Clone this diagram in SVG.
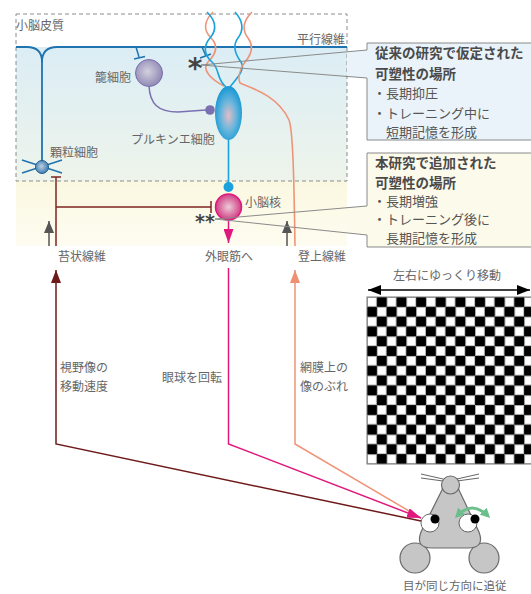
<svg xmlns="http://www.w3.org/2000/svg" width="531" height="594" viewBox="0 0 531 594">
  <defs>
    <style>
      text { font-family: "Noto Sans CJK JP", "Noto Sans", sans-serif; fill: #666; font-size: 12px; }
      .bh { font-size: 13.5px; font-weight: bold; fill: #4a4a4a; }
      .bt { font-size: 13px; fill: #555; }
      .small { font-size: 11.5px; }
      .star { font-family: "DejaVu Sans", sans-serif; font-weight: bold; fill: #444; text-anchor: middle; }
      .star1 { font-size: 28px; }
      .star2 { font-size: 19px; }
      .pf { stroke: #1f73ae; stroke-width: 1.8; fill: none; }
      .cyan { stroke: #1ba2dc; stroke-width: 1.6; fill: none; }
      .cf { stroke: #ef9479; stroke-width: 1.6; fill: none; }
      .mf { stroke: #7f2424; stroke-width: 1.5; fill: none; }
      .lead { stroke: #8a8a8a; stroke-width: 1; fill: none; }
      .conn { stroke-width: 1.5; fill: none; }
      .mouse { fill: #c6c6c6; stroke: #6a6a6a; stroke-width: 1.2; }
      .whisk { stroke: #666; stroke-width: 1; }
    </style>
    <linearGradient id="gCortex" x1="0" y1="0" x2="0" y2="1">
      <stop offset="0" stop-color="#dbedf5"/>
      <stop offset="1" stop-color="#eef4eb"/>
    </linearGradient>
    <linearGradient id="gDeep" x1="0" y1="0" x2="0" y2="1">
      <stop offset="0" stop-color="#fbf8e1"/>
      <stop offset="1" stop-color="#fdfcf0"/>
    </linearGradient>
    <radialGradient id="gPurk" cx="0.5" cy="0.55" r="0.55">
      <stop offset="0" stop-color="#e4bcc6"/>
      <stop offset="0.5" stop-color="#6ab6dc"/>
      <stop offset="1" stop-color="#1697d4"/>
    </radialGradient>
    <radialGradient id="gBasket" cx="0.45" cy="0.45" r="0.6">
      <stop offset="0" stop-color="#d4d0df"/>
      <stop offset="1" stop-color="#8a84b0"/>
    </radialGradient>
    <radialGradient id="gGran" cx="0.45" cy="0.45" r="0.6">
      <stop offset="0" stop-color="#bcd0e2"/>
      <stop offset="1" stop-color="#3574aa"/>
    </radialGradient>
    <radialGradient id="gDCN" cx="0.5" cy="0.5" r="0.55">
      <stop offset="0" stop-color="#ecccd8"/>
      <stop offset="1" stop-color="#cf2f7c"/>
    </radialGradient>
    <pattern id="checker" x="367" y="297" width="19.64" height="19.64" patternUnits="userSpaceOnUse">
      <rect width="19.64" height="19.64" fill="#000"/>
      <rect x="0.4" y="0.4" width="9.2" height="9.2" fill="#fff" stroke="#bbb" stroke-width="0.6"/>
      <rect x="10.22" y="10.22" width="9.2" height="9.2" fill="#fff" stroke="#bbb" stroke-width="0.6"/>
    </pattern>
    <marker id="aMaroon" viewBox="0 0 13 10" refX="13" refY="5" markerWidth="13" markerHeight="10" markerUnits="userSpaceOnUse" orient="auto">
      <path d="M0,0L13,5L0,10z" fill="#6f1a1a"/>
    </marker>
    <marker id="aPink" viewBox="0 0 14 10" refX="14" refY="5" markerWidth="14" markerHeight="10" markerUnits="userSpaceOnUse" orient="auto">
      <path d="M0,0L14,5L0,10z" fill="#e0187e"/>
    </marker>
    <marker id="aSalmon" viewBox="0 0 13 10" refX="13" refY="5" markerWidth="13" markerHeight="10" markerUnits="userSpaceOnUse" orient="auto">
      <path d="M0,0L13,5L0,10z" fill="#ef8f73"/>
    </marker>
    <marker id="aGray" viewBox="0 0 12 10" refX="12" refY="5" markerWidth="12" markerHeight="10" markerUnits="userSpaceOnUse" orient="auto">
      <path d="M0,0L12,5L0,10z" fill="#555"/>
    </marker>
    <marker id="aBlack" viewBox="0 0 13 10" refX="13" refY="5" markerWidth="13" markerHeight="10" markerUnits="userSpaceOnUse" orient="auto-start-reverse">
      <path d="M0,0L13,5L0,10z" fill="#000"/>
    </marker>
    <marker id="aGreen" viewBox="0 0 10 10" refX="7" refY="5" markerWidth="10" markerHeight="10" markerUnits="userSpaceOnUse" orient="auto-start-reverse">
      <path d="M0,0L10,5L0,10z" fill="#6cbf8c"/>
    </marker>
  </defs>

  <!-- tissue background: cortex and deep nucleus layers -->
  <rect x="16" y="47" width="331" height="134" fill="url(#gCortex)"/>
  <rect x="16" y="181" width="331" height="65" fill="url(#gDeep)"/>
  <rect x="16" y="14" width="331" height="167" fill="none" stroke="#8c8c8c" stroke-width="1" stroke-dasharray="4 3"/>

  <!-- callout wedge fills outside the cortex -->
  <polygon points="347,51.8 367,50 367,78 347,76.4" fill="#e9f3f9"/>
  <polygon points="347,207.7 367,206 367,235 347,232.9" fill="#fcfaea"/>

  <!-- granule cell and parallel fiber -->
  <g id="granule-cell">
    <path class="pf" d="M16,47 H27 Q42,47 42,62 V167"/>
    <path class="pf" d="M347,47 H57 Q42,47 42,62"/>
    <path d="M22,160 L62,173 M22,173 L62,160" stroke="#1f73ae" stroke-width="1.5"/>
    <circle cx="42" cy="167" r="6.5" fill="url(#gGran)" stroke="#1f5f92" stroke-width="1"/>
  </g>

  <!-- basket cell -->
  <g id="basket-cell">
    <path d="M136,47 L139,57 M134,59 L145,56.5" stroke="#1f73ae" stroke-width="1.5" fill="none"/>
    <path d="M149,86 C150,104 158,112 178,112 L206,110" stroke="#7a6fb0" stroke-width="1.5" fill="none"/>
    <circle cx="210" cy="110" r="4.8" fill="#7a6fb0"/>
    <circle cx="149" cy="73" r="13.5" fill="url(#gBasket)" stroke="#7a6fb0" stroke-width="1"/>
  </g>

  <!-- Purkinje cell with dendrites and climbing fiber -->
  <g id="purkinje-cell">
    <path d="M202,47 L206,56 M200,58 L211,54" stroke="#1f73ae" stroke-width="1.5" fill="none"/>
    <path class="cf" d="M213,12 C204,21 203,30 211,38 C219,46 216,54 208,62 C201,70 212,80 224,86"/>
    <path class="cyan" d="M207,12 C216,21 217,30 210,38 C203,46 204,55 212,62 C220,69 216,79 226,87"/>
    <path class="cyan" d="M235,12 C243,21 244,30 238,38 C232,46 235,54 241,62 C246,70 236,79 230,87"/>
    <path class="cf" d="M252,12 C243,21 242,30 248,38 C254,46 251,55 245,62 C239,70 238,78 240,83 C252,88 278,96 289,120 C293,130 294,180 295,246"/>
    <line x1="228.5" y1="138" x2="228.5" y2="185" stroke="#1ba2dc" stroke-width="1.6"/>
    <ellipse cx="228.5" cy="113" rx="13.5" ry="27" fill="url(#gPurk)"/>
    <circle cx="228.5" cy="187" r="5" fill="#1ba2dc"/>
  </g>

  <!-- deep cerebellar nucleus -->
  <g id="cerebellar-nucleus">
    <circle cx="228.5" cy="207" r="13" fill="url(#gDCN)" stroke="#e0187e" stroke-width="1.5"/>
  </g>

  <!-- mossy fiber input -->
  <g id="mossy-fiber">
    <path class="mf" d="M56,246 V177 M51,177 H61"/>
    <path class="mf" d="M56,207 H211 M211,201 V213"/>
  </g>

  <!-- connectors -->
  <g id="connectors">
    <line class="conn" x1="228.5" y1="220" x2="228.5" y2="243" stroke="#e0187e" marker-end="url(#aPink)"/>
    <line class="conn" x1="49" y1="246" x2="49" y2="221" stroke="#555" marker-end="url(#aGray)"/>
    <line class="conn" x1="287" y1="246" x2="287" y2="221" stroke="#555" marker-end="url(#aGray)"/>
    <polyline class="conn" points="421,521 56,444 56,270" stroke="#6f1a1a" marker-end="url(#aMaroon)"/>
    <polyline class="conn" points="421,518 295,444 295,270" stroke="#ef9479" marker-end="url(#aSalmon)"/>
    <polyline class="conn" points="228.5,268 228.5,444 421,518" stroke="#e0187e" marker-end="url(#aPink)"/>
    <line class="conn" x1="368" y1="290" x2="530" y2="290" stroke="#000" stroke-width="2" marker-start="url(#aBlack)" marker-end="url(#aBlack)"/>
  </g>

  <!-- plasticity site markers -->
  <text class="star star1" x="195" y="78">*</text>
  <text class="star star2" x="205" y="228">**</text>

  <!-- labels -->
  <text x="16" y="29.5">小脳皮質</text>
  <text x="297" y="43.5">平行線維</text>
  <text x="95" y="81.5">籠細胞</text>
  <text x="50" y="156.5">顆粒細胞</text>
  <text x="131" y="143.5">プルキンエ細胞</text>
  <text x="245" y="206.5">小脳核</text>
  <text x="58" y="261">苔状線維</text>
  <text x="205" y="261">外眼筋へ</text>
  <text x="298" y="261">登上線維</text>
  <text x="60" y="371.5">視野像の</text>
  <text x="60" y="390.5">移動速度</text>
  <text x="162" y="381.5">眼球を回転</text>
  <text x="300" y="371.5">網膜上の</text>
  <text x="300" y="390.5">像のぶれ</text>
  <text x="393" y="279.5">左右にゆっくり移動</text>
  <text class="small" x="403" y="590">目が同じ方向に追従</text>

  <!-- callout: previously assumed site -->
  <g id="callout-previous">
    <path d="M367,50 V43 H540 V140 H367 V78" fill="#e9f3f9" stroke="#8a8a8a" stroke-width="1"/>
    <path class="lead" d="M367,50 L201,65 L367,78"/>
    <text class="bh" x="375" y="58">従来の研究で仮定された</text>
    <text class="bh" x="375" y="79">可塑性の場所</text>
    <text class="bt" x="373" y="98">・長期抑圧</text>
    <text class="bt" x="373" y="118">・トレーニング中に</text>
    <text class="bt" x="386" y="137">短期記憶を形成</text>
  </g>

  <!-- callout: newly added site -->
  <g id="callout-new">
    <path d="M367,206 V153 H540 V247 H367 V235" fill="#fcfaea" stroke="#8a8a8a" stroke-width="1"/>
    <path class="lead" d="M367,206 L215,219 L367,235"/>
    <text class="bh" x="375" y="168">本研究で追加された</text>
    <text class="bh" x="375" y="188">可塑性の場所</text>
    <text class="bt" x="373" y="206">・長期増強</text>
    <text class="bt" x="373" y="224">・トレーニング後に</text>
    <text class="bt" x="386" y="243">長期記憶を形成</text>
  </g>

  <!-- moving checkerboard stimulus -->
  <g id="checkerboard">
    <rect x="367" y="297" width="167" height="167" fill="url(#checker)" stroke="#777" stroke-width="1"/>
  </g>

  <!-- mouse -->
  <g id="mouse">
    <circle class="mouse" cx="415" cy="558" r="15"/>
    <circle class="mouse" cx="484" cy="558" r="15"/>
    <path class="mouse" d="M443,488 L421,532 Q415,548 432,548 L468,548 Q485,548 479,532 L458,488 Z"/>
    <path class="whisk" d="M421,474 L443,479 M421,478 L443,481 M457,481 L479,478 M457,479 L479,474"/>
    <circle class="mouse" cx="450.5" cy="485" r="9"/>
    <circle cx="430" cy="523" r="9" fill="#fff" stroke="#444" stroke-width="0.8"/>
    <circle cx="435" cy="519" r="4.5" fill="#000"/>
    <circle cx="468" cy="523" r="9" fill="#fff" stroke="#444" stroke-width="0.8"/>
    <circle cx="475" cy="519" r="4.5" fill="#000"/>
    <path d="M457,516 Q472,500 488,516" stroke="#6cbf8c" stroke-width="3" fill="none" marker-start="url(#aGreen)" marker-end="url(#aGreen)"/>
  </g>
</svg>
